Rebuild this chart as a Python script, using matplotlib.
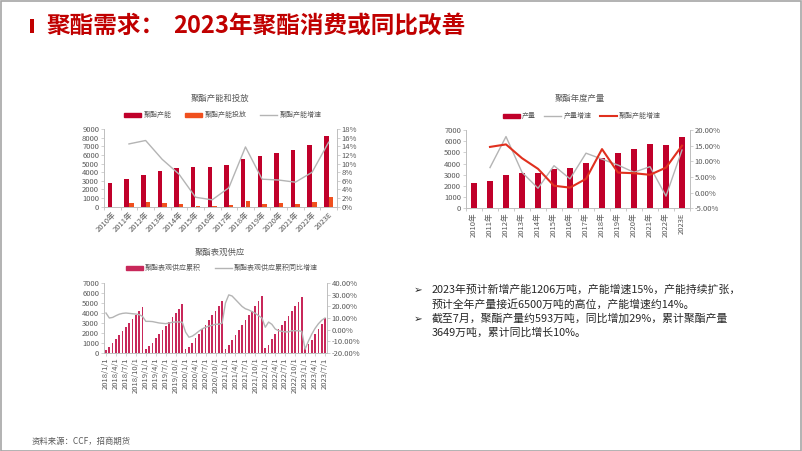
import matplotlib
matplotlib.use("Agg")
import matplotlib.pyplot as plt
import numpy as np
from matplotlib.patches import Patch, Rectangle
from matplotlib.lines import Line2D
from matplotlib.ticker import FuncFormatter

plt.rcParams['font.family'] = ['Noto Sans CJK SC', 'DejaVu Sans']
plt.rcParams['axes.unicode_minus'] = False

# ---------------- data ----------------
years = ["2010年", "2011年", "2012年", "2013年", "2014年", "2015年", "2016年",
         "2017年", "2018年", "2019年", "2020年", "2021年", "2022年", "2023E"]
capacity = [2780, 3210, 3730, 4120, 4480, 4560, 4600, 4800, 5510, 5870, 6270, 6580, 7180, 8250]
cap_added = [0, 480, 560, 420, 330, 80, 40, 200, 710, 370, 400, 320, 570, 1100]
cap_growth = [np.nan, 14.6, 15.4, 11.0, 7.6, 2.2, 1.6, 4.4, 13.9, 6.4, 6.2, 5.7, 8.0, 15.0]

output = [2290, 2470, 2950, 3150, 3180, 3480, 3630, 4050, 4520, 4940, 5270, 5710, 5650, 6370]
output_growth = [np.nan, 8.0, 17.9, 6.5, 1.4, 8.6, 4.4, 12.6, 10.7, 8.8, 6.5, 8.3, -1.1, 13.6]

months = [f"{y}/{m}/1" for y in range(2018, 2024) for m in range(1, 13)][:67]
supply_cum = [
    310, 590, 1000, 1380, 1790, 2170, 2590, 3000, 3410, 3790, 4240, 4620,
    340, 670, 1010, 1450, 1850, 2290, 2690, 3130, 3570, 3970, 4440, 4920,
    340, 600, 1010, 1450, 1890, 2360, 2790, 3300, 3770, 4240, 4710, 5220,
    400, 770, 1280, 1750, 2290, 2790, 3300, 3770, 4240, 4710, 5220, 5690,
    440, 810, 1350, 1850, 2360, 2790, 3230, 3700, 4180, 4680, 5150, 5590,
    440, 840, 1280, 1850, 2360, 2900, 3450]
supply_growth = [
    14.3, 10.0, 10.5, 12.0, 13.3, 14.0, 14.3, 14.0, 13.7, 13.4, 12.9, 11.4,
    7.1, 7.1, 6.9, 6.3, 5.7, 5.4, 5.1, 5.7, 6.3, 6.6, 6.6, 6.3,
    -2.3, -6.6, -5.7, -3.7, -1.4, 0.6, 2.0, 2.9, 3.7, 4.6, 4.6, 5.5,
    23.0, 30.0, 29.0, 26.0, 23.0, 20.0, 18.0, 17.0, 15.5, 14.0, 12.0, 10.0,
    2.0, 6.5, 4.5, 0.5, -1.0, -1.5, -2.0, -2.0, -1.0, -1.0, -1.0, -1.5,
    -17.0, -10.0, -4.0, 1.0, 5.0, 8.0, 10.0]

# ---------------- layout helpers ----------------
W, H = 802, 451
fig = plt.figure(figsize=(W / 100, H / 100), dpi=100)
fig.patch.set_facecolor('white')

def add_ax(l, t, r, b):
    return fig.add_axes([l / W, 1 - b / H, (r - l) / W, (b - t) / H])

def fx(x):
    return x / W

def fy(y):
    return 1 - y / H

TXT = '#595959'
SP = '#bfbfbf'
RED = '#c0002a'
ORANGE = '#f0501e'
GRAY = '#b4b4b4'
LINE_RED = '#e0301e'
PINK = '#c8285a'

def style(ax, axr):
    for a in (ax, axr):
        for s in a.spines.values():
            s.set_color(SP)
            s.set_linewidth(0.6)
        a.spines['top'].set_visible(False)
        a.tick_params(colors=TXT, labelsize=5.5, length=2, width=0.5, color=SP, pad=1.5)
    ax.set_facecolor('none')
    axr.set_facecolor('none')

LEG = dict(frameon=False, fontsize=5, labelcolor=TXT, handlelength=2.4, handleheight=0.5,
           handletextpad=0.35, loc='center')

# border
fig.add_artist(Rectangle((0.5 / W, 0.5 / H), 1 - 1.5 / W, 1 - 1.5 / H, transform=fig.transFigure,
                         fill=False, edgecolor='#a6a6a6', linewidth=1.2))

# slide title
fig.add_artist(Rectangle((fx(30), fy(33)), 4 / W, 14 / H, transform=fig.transFigure,
                         facecolor='#c00000', edgecolor='none'))
fig.text(fx(46), fy(26), "聚酯需求：", color='#c00000', fontsize=17, fontweight='bold', va='center', ha='left')
fig.text(fx(173), fy(26), "2023年聚酯消费或同比改善", color='#c00000', fontsize=17, fontweight='bold',
         va='center', ha='left')

# ---------------- chart 1 ----------------
ax1 = add_ax(104, 129.3, 337, 206.7)
ax1r = ax1.twinx()
x = np.arange(len(years))
ax1.bar(x - 0.14, capacity, width=0.27, color=RED, zorder=2)
ax1.bar(x + 0.14, cap_added, width=0.27, color=ORANGE, zorder=2)
ax1r.plot(x, cap_growth, color=GRAY, lw=1.0, zorder=3)
ax1.set_xlim(-0.5, len(years) - 0.5)
ax1.set_ylim(0, 9000)
ax1.set_yticks(np.arange(0, 9001, 1000))
ax1r.set_ylim(0, 18)
ax1r.set_yticks(np.arange(0, 19, 2))
ax1r.yaxis.set_major_formatter(FuncFormatter(lambda v, p: f"{v:.0f}%"))
ax1.set_xticks(x)
ax1.set_xticklabels(years, rotation=45, ha='right', rotation_mode='anchor')
style(ax1, ax1r)
ax1.tick_params(axis='x', length=0, pad=3)
ax1.set_xticks(np.arange(-0.5, len(years), 1), minor=True)
ax1.tick_params(axis='x', which='minor', length=2, color=SP)
fig.text(fx(220), fy(98), "聚酯产能和投放", fontsize=6, color=TXT, ha='center', va='center')
h1 = [Patch(color=RED), Patch(color=ORANGE), Line2D([], [], color=GRAY, lw=1)]
fig.legend(h1, ["聚酯产能", "聚酯产能投放", "聚酯产能增速"], bbox_to_anchor=(fx(223), fy(115)),
           ncol=3, columnspacing=2.0, **LEG)

# ---------------- chart 2 ----------------
ax2 = add_ax(466, 130, 690, 208.3)
ax2r = ax2.twinx()
ax2.bar(x, output, width=0.33, color=RED, zorder=2)
ax2r.plot(x, output_growth, color=GRAY, lw=1.0, zorder=3)
ax2r.plot(x, cap_growth, color=LINE_RED, lw=1.5, zorder=4)
ax2.set_xlim(-0.5, len(years) - 0.5)
ax2.set_ylim(0, 7000)
ax2.set_yticks(np.arange(0, 7001, 1000))
ax2r.set_ylim(-5, 20)
ax2r.set_yticks(np.arange(-5, 21, 5))
ax2r.yaxis.set_major_formatter(FuncFormatter(lambda v, p: f"{v:.2f}%"))
ax2.set_xticks(x)
ax2.set_xticklabels(years, rotation=90, ha='center', va='top')
style(ax2, ax2r)
ax2.tick_params(axis='x', length=0, pad=3)
ax2.set_xticks(np.arange(-0.5, len(years), 1), minor=True)
ax2.tick_params(axis='x', which='minor', length=2, color=SP)
fig.text(fx(580), fy(98), "聚酯年度产量", fontsize=6, color=TXT, ha='center', va='center')
h2 = [Patch(color=RED), Line2D([], [], color=GRAY, lw=1), Line2D([], [], color=LINE_RED, lw=1.5)]
fig.legend(h2, ["产量", "产量增速", "聚酯产能增速"], bbox_to_anchor=(fx(582), fy(116)),
           ncol=3, columnspacing=1.2, **LEG)

# ---------------- chart 3 ----------------
ax3 = add_ax(104, 283.3, 327, 352.7)
ax3r = ax3.twinx()
xm = np.arange(len(months))
ax3.bar(xm, supply_cum, width=0.5, color=PINK, zorder=2)
ax3r.plot(xm, supply_growth, color=GRAY, lw=1.0, zorder=3)
ax3.set_xlim(-0.6, len(months) - 0.4)
ax3.set_ylim(0, 7000)
ax3.set_yticks(np.arange(0, 7001, 1000))
ax3r.set_ylim(-20, 40)
ax3r.set_yticks(np.arange(-20, 41, 10))
ax3r.yaxis.set_major_formatter(FuncFormatter(lambda v, p: f"{v:.2f}%"))
ax3.set_xticks(xm[::3])
ax3.set_xticklabels(months[::3], rotation=90, ha='center', va='top')
style(ax3, ax3r)
ax3.tick_params(axis='x', length=2, pad=1.5)
fig.text(fx(220), fy(252), "聚酯表观供应", fontsize=6, color=TXT, ha='center', va='center')
h3 = [Patch(color=PINK), Line2D([], [], color=GRAY, lw=1)]
fig.legend(h3, ["聚酯表观供应累积", "聚酯表观供应累积同比增速"],
           bbox_to_anchor=(fx(222), fy(268)), ncol=2, columnspacing=2.0, **LEG)

# ---------------- bullet text ----------------
BF = ['Noto Sans CJK SC', 'DejaVu Sans']
lines = [
    (290, True, "2023年预计新增产能1206万吨，产能增速15%，产能持续扩张，"),
    (304, False, "预计全年产量接近6500万吨的高位，产能增速约14%。"),
    (319, True, "截至7月，聚酯产量约593万吨，同比增加29%，累计聚酯产量"),
    (333, False, "3649万吨，累计同比增长10%。"),
]
for yy, bullet, t in lines:
    if bullet:
        fig.text(fx(414), fy(yy), "➢", family=BF, fontsize=7.5, color='#262626', ha='left', va='center')
    fig.text(fx(432), fy(yy), t, family=BF, fontsize=7.8, color='#262626', ha='left', va='center')

# source
fig.text(fx(32), fy(441), "资料来源：CCF，招商期货", fontsize=6, color=TXT, ha='left', va='center')

fig.savefig("out.png", dpi=100)
